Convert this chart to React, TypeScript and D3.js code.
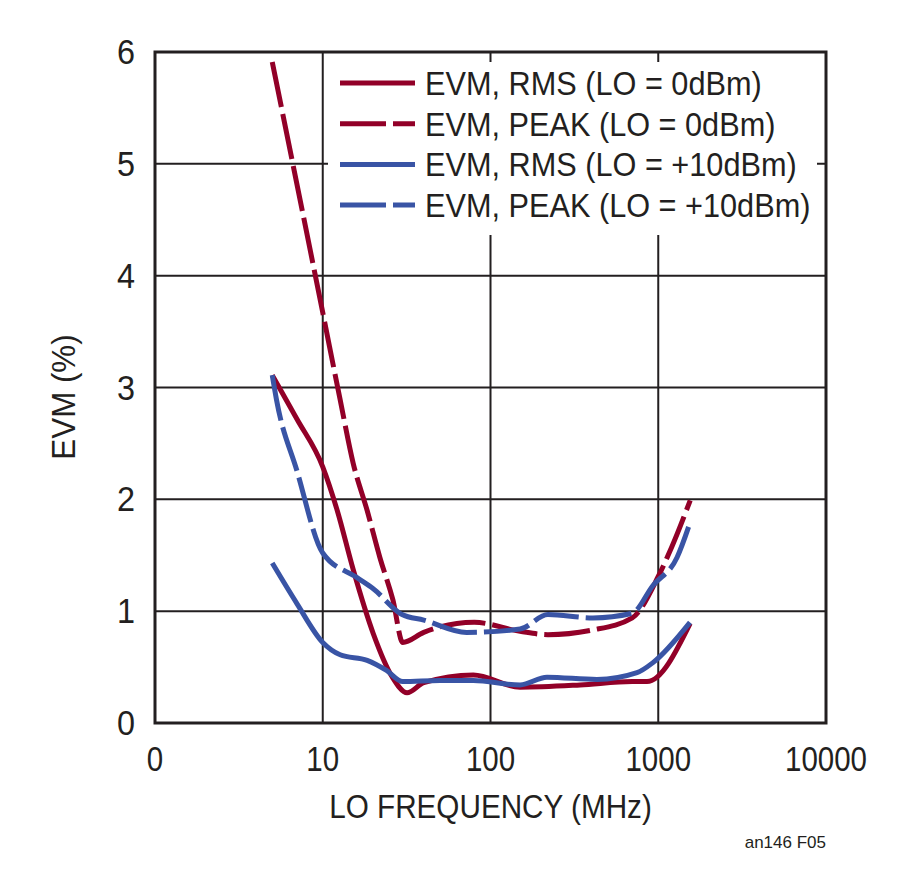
import React from 'react';
import * as d3 from 'd3';

// LO frequency (MHz) and EVM (%)
const rmsLo0Freq = [5, 7, 10, 12.2, 15.2, 20, 26, 31.8, 40, 79, 150, 342, 700, 857, 1550];
const rmsLo0Evm = [3.11, 2.72, 2.29, 1.9, 1.37, 0.8, 0.41, 0.27, 0.36, 0.43, 0.32, 0.34, 0.37, 0.37, 0.89];

const peakLo0Freq = [5, 10, 12.7, 15.2, 18.4, 21.9, 26.2, 30, 40, 63, 80, 150, 220, 400, 700, 1000, 1200, 1550];
const peakLo0Evm = [5.91, 3.67, 2.89, 2.32, 1.9, 1.48, 1.1, 0.72, 0.81, 0.89, 0.9, 0.82, 0.79, 0.83, 0.94, 1.31, 1.57, 1.99];

const rmsLo10Freq = [5, 7, 10, 12.7, 18.4, 24, 30, 50, 79, 150, 217, 431, 747, 930, 1546];
const rmsLo10Evm = [1.43, 1.07, 0.72, 0.61, 0.56, 0.47, 0.37, 0.38, 0.38, 0.34, 0.41, 0.39, 0.45, 0.54, 0.9];

const peakLo10Freq = [5, 5.3, 7, 10, 16, 20, 29.7, 40, 72, 150, 220, 408, 697, 930, 1294, 1546];
const peakLo10Evm = [3.11, 2.89, 2.26, 1.52, 1.3, 1.2, 0.97, 0.92, 0.81, 0.84, 0.97, 0.94, 0.98, 1.23, 1.48, 1.79];

const xTickValues = [1, 10, 100, 1000, 10000];
const xTickLabels = ['0', '10', '100', '1000', '10000'];
const yTickValues = [0, 1, 2, 3, 4, 5, 6];

const RED = '#920028';
const BLUE = '#3954a5';
const INK = '#231f20';
const FONT = '"Liberation Sans", Arial, sans-serif';

const series = [
  { label: 'EVM, RMS (LO = 0dBm)', freq: rmsLo0Freq, evm: rmsLo0Evm, color: RED, dashed: false },
  { label: 'EVM, PEAK (LO = 0dBm)', freq: peakLo0Freq, evm: peakLo0Evm, color: RED, dashed: true },
  { label: 'EVM, RMS (LO = +10dBm)', freq: rmsLo10Freq, evm: rmsLo10Evm, color: BLUE, dashed: false },
  { label: 'EVM, PEAK (LO = +10dBm)', freq: peakLo10Freq, evm: peakLo10Evm, color: BLUE, dashed: true },
];

export default function App() {
  const width = 900;
  const height = 869;
  const margin = { left: 155, right: 74, top: 52, bottom: 146 };

  const x = d3.scaleLog().domain([1, 10000]).range([margin.left, width - margin.right]);
  const y = d3.scaleLinear().domain([0, 6]).range([height - margin.bottom, margin.top]);

  const line = d3.line<[number, number]>()
    .x(d => x(d[0]))
    .y(d => y(d[1]))
    .curve(d3.curveMonotoneX);

  const [x0, x1] = x.range();
  const [y0, y1] = y.range();

  // legend box sits over the grid
  const legend = { x: 328, y: 62, w: 489, h: 173, lineX: 340, lineW: 75, textX: 425, rowY: 83, rowGap: 40.7 };

  return (
    <div style={{ position: 'absolute', left: 0, top: 0 }}>
      <svg width={width} height={height} style={{ display: 'block', background: '#fff' }}>
        {/* grid */}
        {xTickValues.slice(1, -1).map(v => (
          <line key={'gx' + v} x1={x(v)} x2={x(v)} y1={y1} y2={y0} stroke={INK} strokeWidth={2} />
        ))}
        {yTickValues.slice(1, -1).map(v => (
          <line key={'gy' + v} x1={x0} x2={x1} y1={y(v)} y2={y(v)} stroke={INK} strokeWidth={2} />
        ))}

        {/* legend background */}
        <rect x={legend.x} y={legend.y} width={legend.w} height={legend.h} fill="#fff" />

        {/* data */}
        {series.map(s => (
          <path
            key={s.label}
            d={line(s.freq.map((f, i) => [f, s.evm[i]] as [number, number])) || ''}
            fill="none"
            stroke={s.color}
            strokeWidth={5}
            strokeDasharray={s.dashed ? '46,7' : undefined}
          />
        ))}

        {/* frame */}
        <rect x={x0} y={y1} width={x1 - x0} height={y0 - y1} fill="none" stroke={INK} strokeWidth={3} />

        {/* legend entries */}
        {series.map((s, i) => {
          const ry = legend.rowY + i * legend.rowGap;
          return (
            <g key={'lg' + i}>
              <line
                x1={legend.lineX}
                x2={legend.lineX + legend.lineW}
                y1={ry}
                y2={ry}
                stroke={s.color}
                strokeWidth={5}
                strokeDasharray={s.dashed ? '46,7' : undefined}
              />
              <text
                transform={`translate(${legend.textX},${ry + 12}) scale(0.93,1)`}
                fontFamily={FONT}
                fontSize={33}
                fill={INK}
              >
                {s.label}
              </text>
            </g>
          );
        })}

        {/* y tick labels */}
        {yTickValues.map(v => (
          <text
            key={'yt' + v}
            transform={`translate(135,${y(v) + 12}) scale(0.9,1)`}
            textAnchor="end"
            fontFamily={FONT}
            fontSize={36}
            fill={INK}
          >
            {v}
          </text>
        ))}

        {/* x tick labels */}
        {xTickValues.map((v, i) => (
          <text
            key={'xt' + v}
            transform={`translate(${x(v)},771) scale(0.82,1)`}
            textAnchor="middle"
            fontFamily={FONT}
            fontSize={36}
            fill={INK}
          >
            {xTickLabels[i]}
          </text>
        ))}

        {/* axis titles */}
        <text
          transform={`translate(${(x0 + x1) / 2},818) scale(0.9,1)`}
          textAnchor="middle"
          fontFamily={FONT}
          fontSize={33}
          fill={INK}
        >
          LO FREQUENCY (MHz)
        </text>
        <text
          transform={`translate(75,397) rotate(-90) scale(0.95,1)`}
          textAnchor="middle"
          fontFamily={FONT}
          fontSize={33}
          fill={INK}
        >
          EVM (%)
        </text>

        <text x={x1} y={848} textAnchor="end" fontFamily={FONT} fontSize={17} fill={INK}>
          an146 F05
        </text>
      </svg>
    </div>
  );
}
